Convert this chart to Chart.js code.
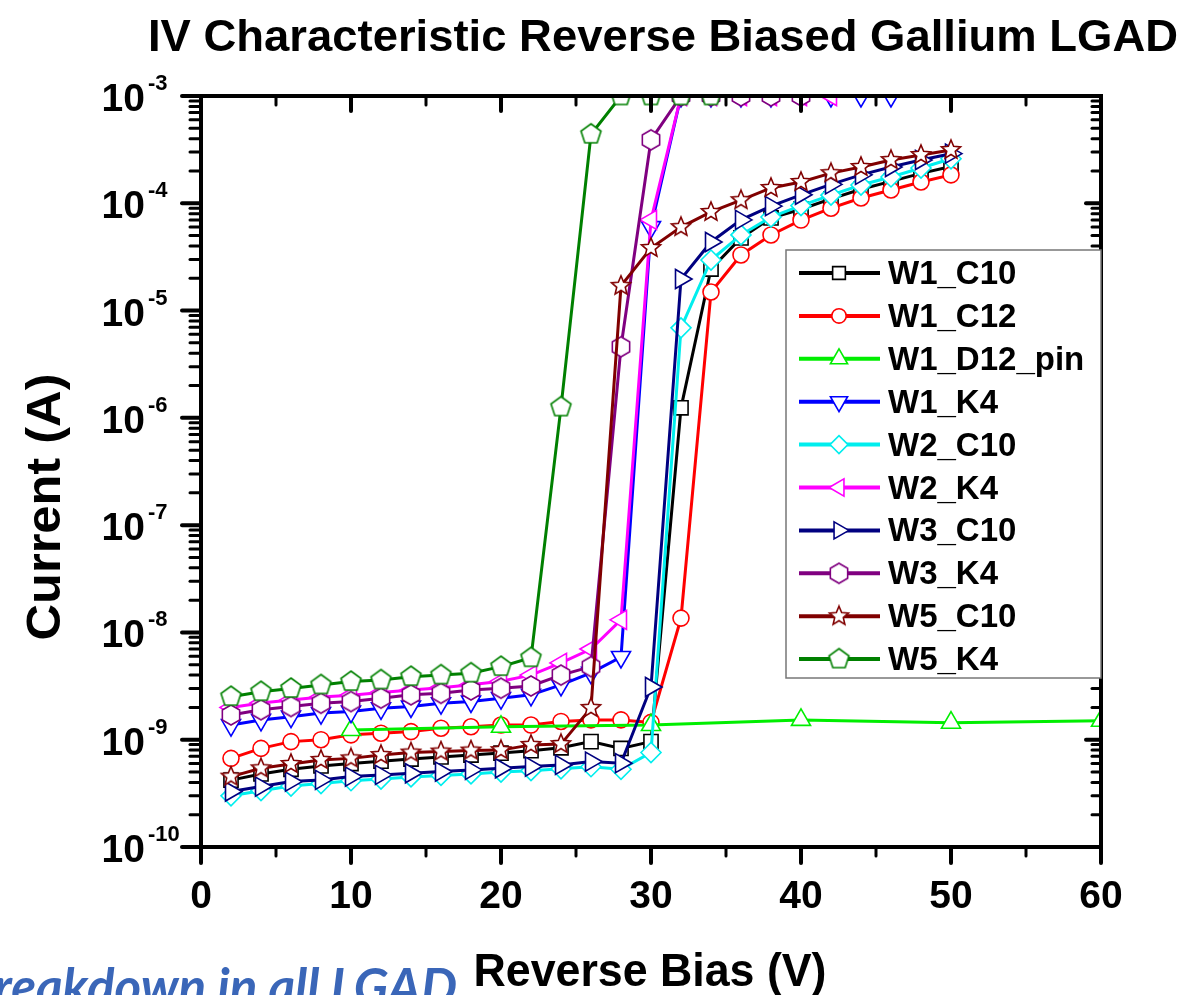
<!DOCTYPE html>
<html>
<head>
<meta charset="utf-8">
<script src="https://cdn.jsdelivr.net/npm/chart.js@4.4.0/dist/chart.umd.min.js"></script>
<style>
  html, body { margin: 0; padding: 0; background: #fff; }
  #wrap { width: 1187px; height: 995px; position: relative; }
</style>
</head>
<body>
<div id="wrap"><canvas id="ivChart"></canvas></div>
<script>
// Reverse bias (V) for the LGAD sweeps, and for the pin diode
const voltage = [2, 4, 6, 8, 10, 12, 14, 16, 18, 20, 22, 24, 26, 28, 30, 32, 34, 36, 38, 40, 42, 44, 46, 48, 50];
const voltagePin = [10, 20, 30, 40, 50, 60];

// Current (A). Saturated sweeps stop at the 1 mA compliance
const w1C10 = [4.2e-10, 4.8e-10, 5.3e-10, 5.7e-10, 6.0e-10, 6.3e-10, 6.6e-10, 6.9e-10, 7.2e-10, 7.5e-10, 7.9e-10, 8.4e-10, 9.6e-10, 8.3e-10, 9.6e-10, 1.24e-6, 2.44e-5, 4.75e-5, 7.3e-5, 8.8e-5, 1.1e-4, 1.35e-4, 1.6e-4, 1.9e-4, 2.2e-4];
const w1C12 = [6.7e-10, 8.3e-10, 9.6e-10, 1.0e-9, 1.11e-9, 1.15e-9, 1.19e-9, 1.28e-9, 1.32e-9, 1.37e-9, 1.37e-9, 1.48e-9, 1.53e-9, 1.53e-9, 1.45e-9, 1.36e-8, 1.49e-5, 3.3e-5, 5.07e-5, 6.98e-5, 9.0e-5, 1.12e-4, 1.33e-4, 1.58e-4, 1.84e-4];
const w1D12pin = [1.23e-9, 1.32e-9, 1.37e-9, 1.53e-9, 1.44e-9, 1.5e-9];
const w1K4 = [1.37e-9, 1.53e-9, 1.64e-9, 1.77e-9, 1.83e-9, 1.96e-9, 2.04e-9, 2.19e-9, 2.27e-9, 2.44e-9, 2.62e-9, 3.24e-9, 4.2e-9, 5.9e-9, 6.0e-5, 1e-3, 1e-3, 1e-3, 1e-3, 1e-3, 1e-3, 1e-3, 1e-3];
const w2C10 = [3.0e-10, 3.35e-10, 3.7e-10, 3.9e-10, 4.15e-10, 4.3e-10, 4.5e-10, 4.65e-10, 4.8e-10, 5.0e-10, 5.15e-10, 5.35e-10, 5.6e-10, 5.3e-10, 7.6e-10, 6.9e-6, 2.96e-5, 5.07e-5, 7.45e-5, 9.5e-5, 1.19e-4, 1.48e-4, 1.76e-4, 2.13e-4, 2.6e-4];
const w2K4 = [2.0e-9, 2.2e-9, 2.35e-9, 2.5e-9, 2.6e-9, 2.75e-9, 2.9e-9, 3.05e-9, 3.25e-9, 3.5e-9, 4.0e-9, 5.2e-9, 7.0e-9, 1.31e-8, 7.0e-5, 1e-3, 1e-3, 1e-3, 1e-3, 1e-3, 1e-3];
const w3C10 = [3.29e-10, 3.66e-10, 4.07e-10, 4.22e-10, 4.53e-10, 4.7e-10, 4.87e-10, 5.05e-10, 5.23e-10, 5.42e-10, 5.62e-10, 5.82e-10, 6.25e-10, 6.04e-10, 3.1e-9, 1.97e-5, 4.36e-5, 7.0e-5, 9.4e-5, 1.2e-4, 1.5e-4, 1.84e-4, 2.18e-4, 2.53e-4, 2.9e-4];
const w3K4 = [1.70e-9, 1.90e-9, 2.04e-9, 2.19e-9, 2.27e-9, 2.44e-9, 2.62e-9, 2.71e-9, 2.91e-9, 3.02e-9, 3.17e-9, 4.0e-9, 4.8e-9, 4.6e-6, 3.9e-4, 1e-3, 1e-3, 1e-3, 1e-3, 1e-3];
const w5C10 = [4.53e-10, 5.42e-10, 5.94e-10, 6.48e-10, 6.7e-10, 7.2e-10, 7.6e-10, 7.76e-10, 7.93e-10, 8.0e-10, 8.95e-10, 9.1e-10, 1.98e-9, 1.7e-5, 3.83e-5, 6.0e-5, 8.3e-5, 1.07e-4, 1.39e-4, 1.58e-4, 1.91e-4, 2.18e-4, 2.53e-4, 2.82e-4, 3.14e-4];
const w5K4 = [2.52e-9, 2.8e-9, 3.0e-9, 3.24e-9, 3.48e-9, 3.6e-9, 3.87e-9, 4.0e-9, 4.17e-9, 4.8e-9, 5.8e-9, 1.26e-6, 4.4e-4, 1e-3, 1e-3, 1e-3, 1e-3];

// Axis labels
const xTicks = [0, 10, 20, 30, 40, 50, 60];
const yExponents = [-3, -4, -5, -6, -7, -8, -9, -10];

const FONT = "'Liberation Sans', Arial, sans-serif";

// Origin-like hollow markers that Chart.js does not have
function makeMarker(shape, color, r) {
    const size = Math.ceil(2 * r + 4);
    const c = document.createElement('canvas');
    c.width = size;
    c.height = size;
    const g = c.getContext('2d');
    const cx = size / 2, cy = size / 2;
    g.beginPath();
    if (shape === 'star') {
        for (let i = 0; i < 10; i++) {
            const rr = i % 2 === 0 ? r : r * 0.45;
            const a = -Math.PI / 2 + i * Math.PI / 5;
            g.lineTo(cx + rr * Math.cos(a), cy + rr * Math.sin(a));
        }
    } else {
        const n = shape === 'pentagon' ? 5 : 6;
        for (let i = 0; i < n; i++) {
            const a = -Math.PI / 2 + i * 2 * Math.PI / n;
            g.lineTo(cx + r * Math.cos(a), cy + r * Math.sin(a));
        }
    }
    g.closePath();
    g.fillStyle = '#fff';
    g.fill();
    g.lineWidth = 1.6;
    g.strokeStyle = color;
    g.stroke();
    return c;
}

const series = [
    { label: 'W1_C10', x: voltage, y: w1C10, color: '#000000', style: 'rect', radius: 10, rotation: 0 },
    { label: 'W1_C12', x: voltage, y: w1C12, color: '#ff0000', style: 'circle', radius: 8, rotation: 0 },
    { label: 'W1_D12_pin', x: voltagePin, y: w1D12pin, color: '#00ee00', style: 'triangle', radius: 11, rotation: 0 },
    { label: 'W1_K4', x: voltage, y: w1K4, color: '#0000ff', style: 'triangle', radius: 11, rotation: 180 },
    { label: 'W2_C10', x: voltage, y: w2C10, color: '#00eeee', style: 'rectRot', radius: 10, rotation: 0 },
    { label: 'W2_K4', x: voltage, y: w2K4, color: '#ff00ff', style: 'triangle', radius: 11, rotation: 270 },
    { label: 'W3_C10', x: voltage, y: w3C10, color: '#000080', style: 'triangle', radius: 11, rotation: 90 },
    { label: 'W3_K4', x: voltage, y: w3K4, color: '#800080', style: makeMarker('hexagon', '#800080', 10), radius: 10, rotation: 0 },
    { label: 'W5_C10', x: voltage, y: w5C10, color: '#800000', style: makeMarker('star', '#800000', 10), radius: 10, rotation: 0 },
    { label: 'W5_K4', x: voltage, y: w5K4, color: '#008000', style: makeMarker('pentagon', '#008000', 10.5), radius: 10, rotation: 0 }
];

const datasets = series.map((s, i) => ({
    label: s.label,
    data: s.y.map((v, j) => ({ x: s.x[j], y: v })),
    borderColor: s.color,
    backgroundColor: '#ffffff',
    borderWidth: 3,
    pointStyle: s.style,
    pointRadius: s.radius,
    pointRotation: s.rotation,
    pointBorderColor: s.color,
    pointBackgroundColor: '#ffffff',
    pointBorderWidth: 1.6,
    tension: 0,
    clip: 0,
    order: series.length - i // later series sit on top, as in Origin
}));

function line(ctx, x1, y1, x2, y2) {
    ctx.beginPath();
    ctx.moveTo(x1, y1);
    ctx.lineTo(x2, y2);
    ctx.stroke();
}

// text squeezed/stretched to a given width
function fitText(ctx, text, cx, baseline, width, font) {
    ctx.save();
    ctx.font = font;
    const w = ctx.measureText(text).width;
    ctx.translate(cx, baseline);
    ctx.scale(width / w, 1);
    ctx.textAlign = 'center';
    ctx.fillText(text, 0, 0);
    ctx.restore();
}

const framePlugin = {
    id: 'frame',
    afterDatasetsDraw(chart) {
        const { ctx, chartArea: a, scales: { x, y } } = chart;
        ctx.save();
        ctx.strokeStyle = '#000';
        ctx.lineCap = 'round';

        // x ticks: outward at bottom, inward at top
        for (let v = 0; v <= 60; v += 5) {
            const px = x.getPixelForValue(v);
            const major = v % 10 === 0;
            ctx.lineWidth = major ? 4 : 3;
            line(ctx, px, a.bottom, px, a.bottom + (major ? 16 : 9));
            line(ctx, px, a.top, px, a.top + (major ? 15 : 9));
        }
        // y ticks: outward at left, inward at right
        for (let e = -10; e <= -3; e++) {
            for (let k = 1; k <= 9; k++) {
                if (e === -3 && k > 1) break;
                const py = y.getPixelForValue(k * Math.pow(10, e));
                const major = k === 1;
                ctx.lineWidth = major ? 4 : 3;
                line(ctx, a.left, py, a.left - (major ? 19 : 11), py);
                line(ctx, a.right, py, a.right - (major ? 15 : 9), py);
            }
        }
        ctx.lineWidth = 4;
        ctx.lineCap = 'butt';
        ctx.strokeRect(a.left, a.top, a.right - a.left, a.bottom - a.top);

        // tick labels
        ctx.fillStyle = '#000';
        ctx.font = 'bold 39px ' + FONT;
        ctx.textAlign = 'center';
        ctx.textBaseline = 'alphabetic';
        xTicks.forEach(v => ctx.fillText(String(v), x.getPixelForValue(v), 908));
        yExponents.forEach(e => {
            const py = y.getPixelForValue(Math.pow(10, e));
            ctx.font = 'bold 39px ' + FONT;
            ctx.textAlign = 'right';
            ctx.fillText('10', 145, py + 15);
            ctx.font = 'bold 22px ' + FONT;
            ctx.textAlign = 'left';
            ctx.fillText(String(e), 148, py - 6);
        });

        // axis titles and chart title
        fitText(ctx, 'Reverse Bias (V)', 650, 986, 353, 'bold 46px ' + FONT);
        ctx.save();
        ctx.translate(60, 507);
        ctx.rotate(-Math.PI / 2);
        fitText(ctx, 'Current (A)', 0, 0, 267, 'bold 48px ' + FONT);
        ctx.restore();
        fitText(ctx, 'IV Characteristic Reverse Biased Gallium LGAD', 663, 51, 1030, 'bold 44px ' + FONT);

        // slide text cut off by the bottom edge
        ctx.fillStyle = '#3a66b8';
        ctx.font = "italic bold 51px Lato, 'Open Sans', sans-serif";
        ctx.textAlign = 'right';
        ctx.fillText('Breakdown in all LGAD', 457, 1005);
        ctx.restore();
    }
};

const legendPlugin = {
    id: 'originLegend',
    afterDraw(chart) {
        const ctx = chart.ctx;
        const left = 786, top = 250, right = chart.chartArea.right, bottom = 678;
        ctx.save();
        ctx.fillStyle = '#fff';
        ctx.fillRect(left, top, right - left, bottom - top);
        ctx.strokeStyle = '#777';
        ctx.lineWidth = 1.5;
        ctx.strokeRect(left, top, right - left, bottom - top);
        series.forEach((s, i) => {
            const cy = 273 + i * 42.9;
            ctx.strokeStyle = s.color;
            ctx.lineWidth = 4;
            line(ctx, 799, cy, 880, cy);
            if (typeof s.style === 'string') {
                ctx.fillStyle = '#fff';
                ctx.lineWidth = 1.6;
                Chart.helpers.drawPoint(ctx, { pointStyle: s.style, rotation: s.rotation, radius: s.radius * 0.9, borderWidth: 1.6 }, 839, cy);
            } else {
                ctx.drawImage(s.style, 839 - s.style.width / 2, cy - s.style.height / 2);
            }
            ctx.fillStyle = '#000';
            ctx.font = 'bold 33px ' + FONT;
            ctx.textAlign = 'left';
            ctx.textBaseline = 'alphabetic';
            ctx.fillText(s.label, 888, cy + 11);
        });
        ctx.restore();
    }
};

new Chart(document.getElementById('ivChart'), {
    type: 'line',
    data: { datasets: datasets },
    options: {
        responsive: true,
        maintainAspectRatio: false,
        animation: false,
        layout: { padding: { left: 201, right: 86, top: 96, bottom: 148 } },
        scales: {
            x: { type: 'linear', min: 0, max: 60, display: false },
            y: { type: 'logarithmic', min: 1e-10, max: 1e-3, display: false }
        },
        plugins: {
            legend: { display: false },
            tooltip: { enabled: false },
            title: { display: false }
        }
    },
    plugins: [framePlugin, legendPlugin]
});
</script>
</body>
</html>
